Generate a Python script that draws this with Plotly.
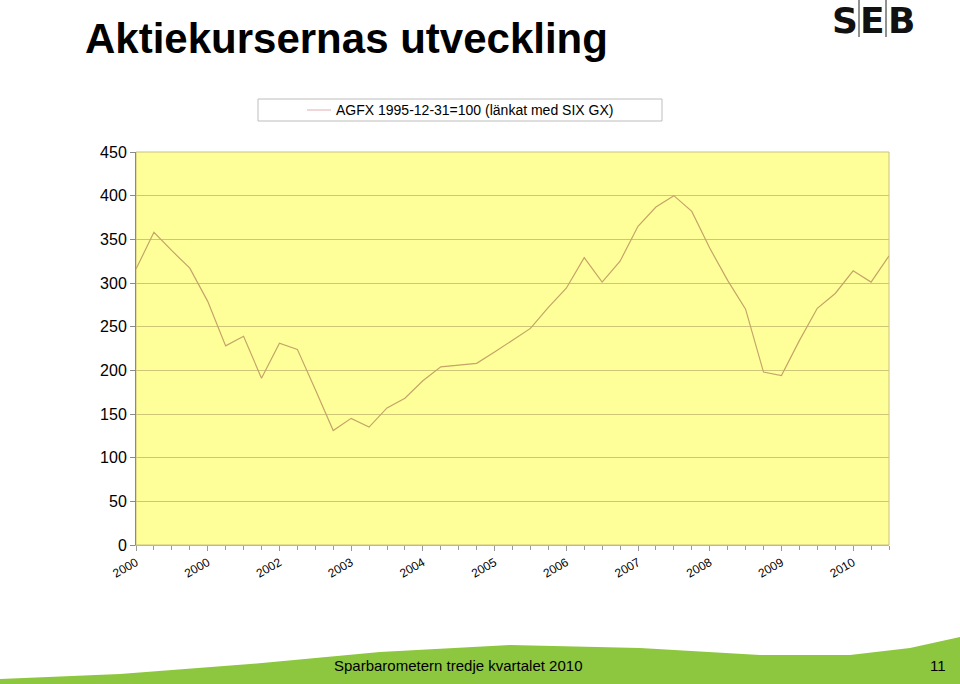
import plotly.graph_objects as go

# ---- data ----
quarter_index = list(range(43))  # 2000 Q1 .. 2010 Q3
agfx_values = [316, 358, 337, 317, 279, 228, 239, 191, 231, 224,
               178, 131, 145, 135, 157, 168, 188, 204, 206, 208,
               221, 234, 248, 272, 294, 329, 301, 325, 365, 387,
               400, 382, 340, 303, 270, 198, 194, 234, 271, 288,
               314, 301, 331]
year_tick_pos = [0, 4, 8, 12, 16, 20, 24, 28, 32, 36, 40]
year_tick_text = ["2000", "2000", "2002", "2003", "2004", "2005",
                  "2006", "2007", "2008", "2009", "2010"]
y_ticks = [0, 50, 100, 150, 200, 250, 300, 350, 400, 450]

W, H = 960, 684
L, R, T, B = 136, 889, 152, 545  # plot area in pixels


def px(x):
    return (x - L) / (R - L)


def py(y):
    return (B - y) / (B - T)


FONT = "Liberation Sans, Arial, sans-serif"

fig = go.Figure()
fig.add_trace(go.Scatter(
    x=quarter_index, y=agfx_values, mode="lines",
    line=dict(color="#C4A468", width=1.2),
    showlegend=False, hoverinfo="x+y",
))

shapes = []
# green footer wave
wave = [(0, 679), (120, 674), (250, 664), (380, 652), (510, 645),
        (640, 648), (760, 655), (850, 655), (910, 648), (960, 637)]
path = "M {} {}".format(px(0), py(H))
for (x, y) in wave:
    path += " L {} {}".format(px(x), py(y))
path += " L {} {} Z".format(px(W), py(H))
shapes.append(dict(type="path", path=path, xref="paper", yref="paper",
                   fillcolor="#8DC63F", line=dict(width=0), layer="below"))
# plot border (top/right)
shapes.append(dict(type="rect", xref="paper", yref="paper", x0=0, x1=1, y0=0, y1=1,
                   line=dict(color="#C8C080", width=1), layer="below"))
# legend box
shapes.append(dict(type="rect", xref="paper", yref="paper",
                   x0=px(258), x1=px(662), y0=py(121), y1=py(99),
                   line=dict(color="#BDBDBD", width=1), fillcolor="white"))
shapes.append(dict(type="line", xref="paper", yref="paper",
                   x0=px(307), x1=px(331), y0=py(110), y1=py(110),
                   line=dict(color="#E6BDBD", width=1.2)))
# SEB logo bars
for bx in (859, 886):
    shapes.append(dict(type="line", xref="paper", yref="paper",
                       x0=px(bx), x1=px(bx), y0=py(0), y1=py(37),
                       line=dict(color="#222222", width=1)))

annotations = [
    dict(text="<b>Aktiekursernas utveckling</b>", x=px(83), y=py(13),
         xanchor="left", yanchor="top",
         font=dict(family=FONT, size=42, color="black")),
    dict(text="AGFX 1995-12-31=100 (länkat med SIX GX)", x=px(334), y=py(110),
         xanchor="left", yanchor="middle",
         font=dict(family=FONT, size=14, color="black")),
    dict(text="Sparbarometern tredje kvartalet 2010", x=px(332), y=py(665),
         xanchor="left", yanchor="middle",
         font=dict(family=FONT, size=15, color="black")),
    dict(text="11", x=px(948), y=py(665),
         xanchor="right", yanchor="middle",
         font=dict(family=FONT, size=15, color="black")),
]
for letter, cx in (("S", 845), ("E", 872), ("B", 901)):
    annotations.append(dict(text="<b>" + letter + "</b>", x=px(cx), y=py(20),
                            xanchor="center", yanchor="middle",
                            font=dict(family="DejaVu Sans, sans-serif", size=36,
                                      color="#111111")))
for a in annotations:
    a.update(xref="paper", yref="paper", showarrow=False)

fig.update_layout(
    width=W, height=H,
    margin=dict(l=L, r=W - R, t=T, b=H - B, pad=0),
    paper_bgcolor="white", plot_bgcolor="#FFFF99",
    font=dict(family=FONT, color="black"),
    shapes=shapes, annotations=annotations,
    xaxis=dict(range=[0, 42], tickmode="array", tickvals=year_tick_pos,
               ticktext=year_tick_text, tickangle=-30,
               tickfont=dict(family=FONT, size=12),
               ticks="outside", ticklen=5, tickcolor="#9A9A9A",
               showgrid=False, zeroline=False, showline=True,
               linecolor="#B8B8A8", linewidth=1,
               minor=dict(dtick=1, tick0=0, ticks="outside", ticklen=4,
                          tickcolor="#9A9A9A", showgrid=False)),
    yaxis=dict(range=[0, 450], tickmode="array", tickvals=y_ticks,
               tickfont=dict(family=FONT, size=16),
               ticks="outside", ticklen=5, tickcolor="#8A8A8A",
               showgrid=True, gridcolor="#CFC576", gridwidth=1,
               zeroline=False, showline=True, linecolor="#8A8A8A", linewidth=1),
)

fig.write_html("out.html")
